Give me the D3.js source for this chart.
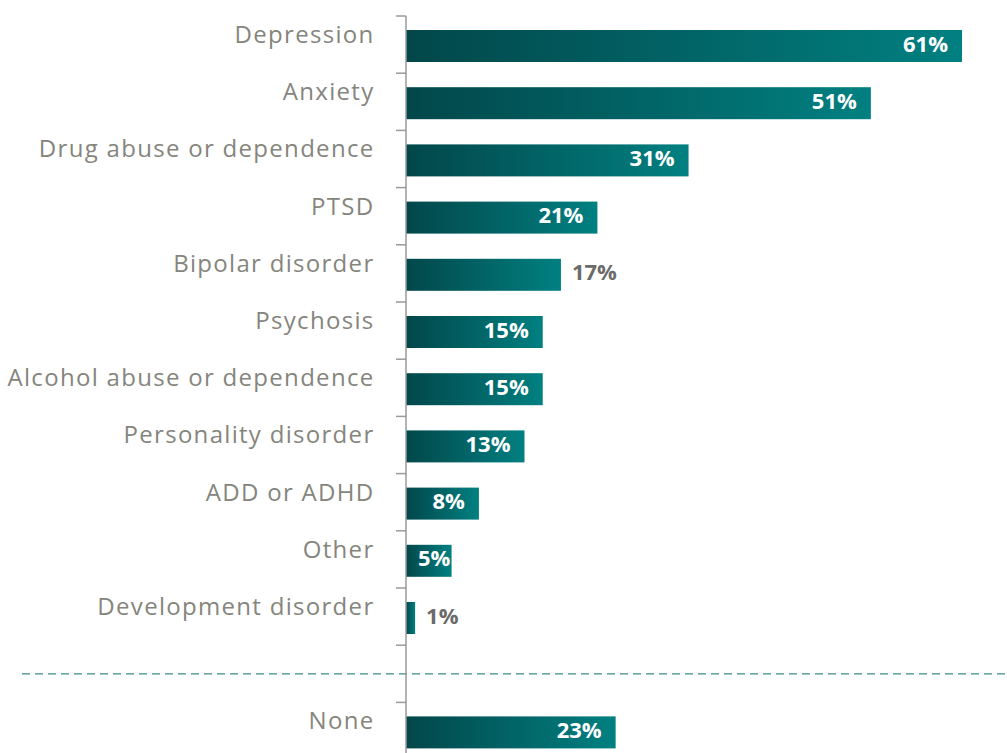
<!DOCTYPE html>
<html>
<head>
<meta charset="utf-8">
<script src="https://cdn.jsdelivr.net/npm/d3@7"></script>
<style>
  html, body { margin: 0; padding: 0; background: #fff; }
  svg { display: block; }
</style>
</head>
<body>
<svg id="chart" width="1007" height="753"></svg>
<script>
// Conditions reported (share of respondents, %)
const categories = [
  "Depression", "Anxiety", "Drug abuse or dependence", "PTSD",
  "Bipolar disorder", "Psychosis", "Alcohol abuse or dependence",
  "Personality disorder", "ADD or ADHD", "Other", "Development disorder",
  "", "None"
];
const values = [61, 51, 31, 21, 17, 15, 15, 13, 8, 5, 1, null, 23];
// Value labels drawn beside the bar instead of inside it
const outsideLabels = ["Bipolar disorder", "Development disorder"];

const rows = categories.map((c, i) => ({ key: "r" + i, name: c, value: values[i] }));

const svg = d3.select("#chart");
const W = 1007, H = 753;
const axisX = 406;
const plotTop = 16, step = 57.2;

const x = d3.scaleLinear().domain([0, 61]).range([axisX, 962]);
const y = d3.scaleBand()
  .domain(rows.map(d => d.key))
  .range([plotTop, plotTop + step * rows.length])
  .paddingInner(0).paddingOuter(0);

// Per-bar gradient: dark teal on the left to bright teal on the right
const defs = svg.append("defs");
const grad = defs.append("linearGradient")
  .attr("id", "barGrad")
  .attr("x1", "0").attr("y1", "0").attr("x2", "1").attr("y2", "0");
grad.append("stop").attr("offset", "0%").attr("stop-color", "#02474a");
grad.append("stop").attr("offset", "100%").attr("stop-color", "#018081");

// Dashed separator through the empty row
const sepRow = rows.find(d => d.name === "");
svg.append("line")
  .attr("x1", 22).attr("x2", W)
  .attr("y1", y(sepRow.key) + y.bandwidth() / 2)
  .attr("y2", y(sepRow.key) + y.bandwidth() / 2)
  .attr("stroke", "#3d8c8c")
  .attr("stroke-width", 1.3)
  .attr("stroke-dasharray", "8,5");

// Bars
const barOffset = 14, barH = 32;
const bars = rows.filter(d => d.value != null);
svg.append("g").selectAll("rect")
  .data(bars)
  .join("rect")
  .attr("x", x(0))
  .attr("y", d => y(d.key) + barOffset)
  .attr("width", d => x(d.value) - x(0))
  .attr("height", barH)
  .attr("fill", "url(#barGrad)");

// Category axis: vertical rule with ticks on band boundaries
const axisG = svg.append("g").attr("transform", `translate(${axisX},0)`);
axisG.append("line")
  .attr("x1", 0).attr("x2", 0)
  .attr("y1", plotTop).attr("y2", H)
  .attr("stroke", "#9a9a9a").attr("stroke-width", 1.5);
const boundaries = d3.range(rows.length).map(i => plotTop + i * step);
axisG.selectAll("line.tick")
  .data(boundaries)
  .join("line")
  .attr("class", "tick")
  .attr("x1", -10).attr("x2", 0)
  .attr("y1", d => d).attr("y2", d => d)
  .attr("stroke", "#9a9a9a").attr("stroke-width", 1.5);

// Category labels (x accounts for the trailing letter-spacing)
svg.append("g").selectAll("text")
  .data(rows.filter(d => d.name !== ""))
  .join("text")
  .attr("x", 374.5)
  .attr("y", d => y(d.key) + 27)
  .attr("text-anchor", "end")
  .attr("font-family", "'Open Sans', sans-serif")
  .attr("font-size", 24)
  .attr("letter-spacing", 1.3)
  .attr("fill", "#85857d")
  .text(d => d.name);

// Value labels: inside the bar end, never closer than 12px to the axis
const pad = 14, minInset = 12;
svg.append("g").selectAll("text")
  .data(bars)
  .join("text")
  .attr("font-family", "'Open Sans', sans-serif")
  .attr("font-weight", 700)
  .attr("font-size", 22)
  .attr("y", d => y(d.key) + barOffset + 21.5)
  .text(d => d.value + "%")
  .each(function (d) {
    const t = d3.select(this);
    if (outsideLabels.includes(d.name)) {
      t.attr("x", x(d.value) + 11).attr("fill", "#6b6b6b");
    } else {
      const w = this.getComputedTextLength();
      const start = Math.max(x(d.value) - pad - w, axisX + minInset);
      t.attr("x", start).attr("fill", "#ffffff");
    }
  });
</script>
</body>
</html>
